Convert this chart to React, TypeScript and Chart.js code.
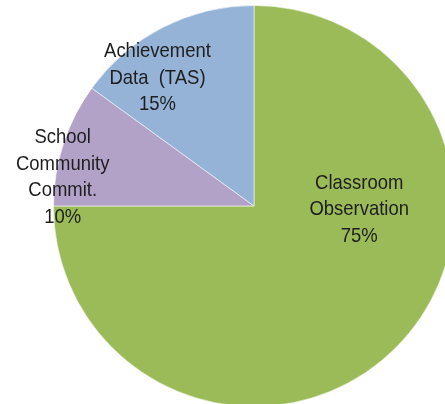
import React, { useEffect, useRef } from "react";
import { Chart, registerables } from "chart.js";

Chart.register(...registerables);

const categories: string[][] = [
  ["Classroom", "Observation"],
  ["School", "Community", "Commit."],
  ["Achievement", "Data  (TAS)"],
];
const values: number[] = [75, 10, 15];
const colors: string[] = ["#9BBB59", "#B3A2C7", "#95B3D7"];
// label anchor: angle in degrees clockwise from 12 o'clock, and fraction of radius
const labelAngles: number[] = [92, 278.6, 323];
const labelRadii: number[] = [0.525, 0.965, 0.8];

const FONT = '"Liberation Sans", Arial, sans-serif';
const FONT_SIZE = 21;
const SCALE_X = 0.88;
const LINE_H = 26.5;

const labelPlugin = {
  id: "sliceLabels",
  afterDatasetsDraw(chart: any) {
    const ctx = chart.ctx;
    const meta = chart.getDatasetMeta(0);
    const total = values.reduce((a, b) => a + b, 0);
    ctx.save();
    ctx.fillStyle = "#1e1e1e";
    ctx.font = `${FONT_SIZE}px ${FONT}`;
    ctx.textAlign = "center";
    ctx.textBaseline = "middle";
    meta.data.forEach((arc: any, i: number) => {
      const { x, y, outerRadius } = arc.getProps(["x", "y", "outerRadius"], true);
      const a = (labelAngles[i] * Math.PI) / 180;
      const r = outerRadius * labelRadii[i];
      const cx = x + Math.sin(a) * r;
      const cy = y - Math.cos(a) * r;
      const lines = [...categories[i], `${Math.round((values[i] / total) * 100)}%`];
      const startY = cy - ((lines.length - 1) * LINE_H) / 2;
      lines.forEach((t, k) => {
        ctx.save();
        ctx.translate(cx, startY + k * LINE_H);
        ctx.scale(SCALE_X, 1);
        ctx.fillText(t, 0, 0);
        ctx.restore();
      });
    });
    ctx.restore();
  },
};

export default function App() {
  const ref = useRef<HTMLCanvasElement>(null);
  useEffect(() => {
    if (!ref.current) return;
    const chart = new Chart(ref.current, {
      type: "pie",
      data: {
        labels: categories.map((c) => c.join(" ")),
        datasets: [
          {
            data: values,
            backgroundColor: colors,
            borderColor: "rgba(255,255,255,0.55)",
            borderWidth: 1,
          },
        ],
      },
      options: {
        responsive: false,
        animation: false,
        layout: { padding: { left: 53, top: 5, right: 55, bottom: 13 } },
        plugins: { legend: { display: false }, tooltip: { enabled: false } },
      },
      plugins: [labelPlugin],
    });
    return () => chart.destroy();
  }, []);
  return (
    <canvas
      ref={ref}
      width={510}
      height={420}
      style={{ position: "fixed", left: 0, top: 0, width: 510, height: 420 }}
    />
  );
}
